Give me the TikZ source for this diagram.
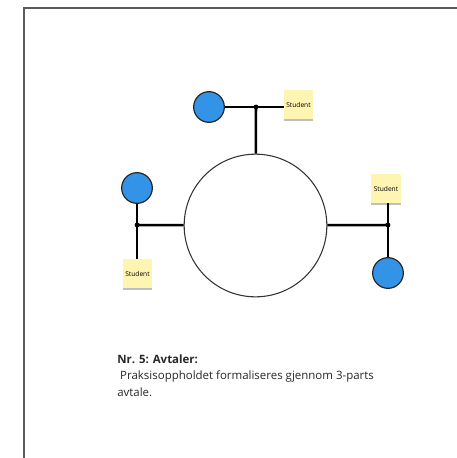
\documentclass[tikz,border=0pt]{standalone}
\usepackage{fontspec}
\setmainfont{Open Sans}
\usetikzlibrary{shadows}
\definecolor{partyblue}{HTML}{3393E6}
\definecolor{noteyellow}{HTML}{FFF5B3}
\definecolor{framegray}{HTML}{5A5A5A}

\begin{document}
\begin{tikzpicture}[x=0.75pt, y=-0.75pt,
		hub_style/.style={circle,draw=black!80,line width=0.8pt,minimum size=107pt,inner sep=0pt},
		party_style/.style={circle,draw=black!85,fill=partyblue,line width=0.9pt,minimum size=23pt,inner sep=0pt},
		note_style/.style={rectangle,fill=noteyellow,minimum size=22pt,inner sep=0pt,font=\fontsize{5}{6}\selectfont,
			drop shadow={shadow xshift=0pt,shadow yshift=-1.5pt,opacity=0.25,fill=black}},
		dot_style/.style={circle,fill=black,inner sep=0pt,minimum size=3.6pt},
		edge_style/.style={draw=black,line width=1.9pt},
		text_style/.style={anchor=base west,inner sep=0pt,font=\fontsize{8.6}{10}\selectfont,text=black!85}]
		
		\useasboundingbox (0,0) rectangle (457,458);
		\clip (0,0) rectangle (457,458);
		\draw[framegray,line width=1.5pt] (24,470) -- (24,8) -- (470,8);
		
		\node[hub_style] (hub) at (255.5,225.5) {};
		
		\node[party_style] (p1) at (209,107) {};
		\node[party_style] (p2) at (137,188) {};
		\node[party_style] (p3) at (388,273) {};
		
		\node[note_style] (s1) at (298.5,104.5) {Student};
		\node[note_style] (s2) at (137.5,273.5) {Student};
		\node[note_style] (s3) at (386,188.5) {Student};
		
		\coordinate (j1) at (256,107);
		\coordinate (j2) at (137,225);
		\coordinate (j3) at (388,225);
		
		\draw[edge_style]  (p1) -- (j1) -- (j1 -| s1.west);
		\draw[edge_style]  (j1) -- (hub);
		\draw[edge_style]  (p2) -- (j2) -- (j2 |- s2.north);
		\draw[edge_style]  (j2) -- (hub);
		\draw[edge_style]  (j3 |- s3.south) -- (j3) -- (p3);
		\draw[edge_style]  (j3) -- (hub);
		
		\node[dot_style] (d1) at (j1) {};
		\node[dot_style] (d2) at (j2) {};
		\node[dot_style] (d3) at (j3) {};
		
		\node[text_style] (t1) at (117,363) {\bfseries Nr. 5: Avtaler:};
		\node[text_style] (t2) at (117,379.5) {\ Praksisoppholdet formaliseres gjennom 3-parts};
		\node[text_style] (t3) at (117,396) {avtale.};
		
\end{tikzpicture}
\end{document}
